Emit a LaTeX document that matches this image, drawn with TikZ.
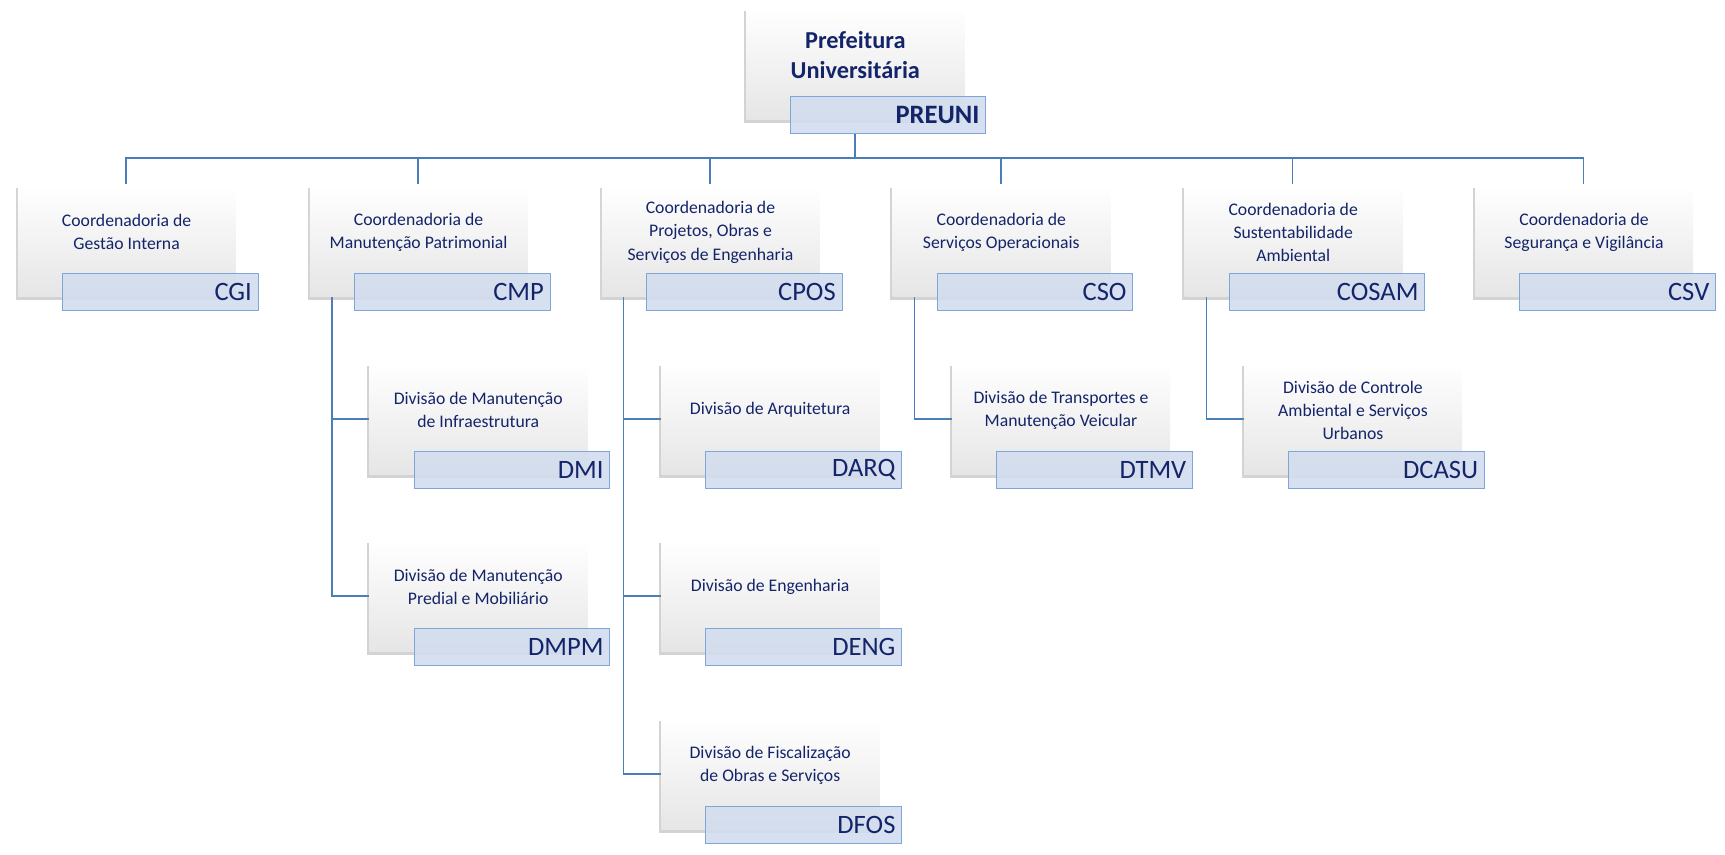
\documentclass[tikz,border=0pt]{standalone}
\usepackage{fontspec}
\setmainfont{Carlito}
\usetikzlibrary{shadows,calc}
\definecolor{navy}{HTML}{14246A}
\definecolor{lnc}{HTML}{4A7EBB}
\definecolor{codef}{HTML}{D2DDEE}
\definecolor{coded}{HTML}{7FA6D8}
\tikzset{
  box/.style={draw=none,top color=white,bottom color=black!10,minimum width=197pt,minimum height=101pt,anchor=north west,inner sep=0pt,drop shadow={shadow xshift=-2pt,shadow yshift=-3pt,opacity=0.35}},
  code/.style={draw=coded,fill=codef,fill opacity=0.9,minimum width=177pt,minimum height=33pt,anchor=north west,inner sep=0pt},
  codetxt/.style={anchor=east,text=navy,font=\fontsize{24}{26}\selectfont,inner sep=0pt},
  txt/.style={align=center,text=navy,font=\fontsize{16}{21}\selectfont,inner sep=0pt},
  ln/.style={draw=lnc,line width=1.5pt}
}
\newcommand{\orgbox}[5]{% name, left, top, text, code
  \node[box] (#1) at (#2,#3) {};
  \node[txt] (#1t) at (#2+98.5,#3+43) {#4};
  \node[code] (#1c) at (#2+40,#3+80) {};
  \node[codetxt] (#1k) at (#2+212,#3+97) {#5};
}
\begin{document}
\begin{tikzpicture}[x=1pt,y=-1pt]
\useasboundingbox (0,0) rectangle (1560,773);
% lines
\coordinate (bus) at (773,143);
\draw[ln] (773,120) -- (bus);
\draw[ln] (114,167) |- (1432,143) -- (1432,167);
\foreach \x in {378,642,905,1169} \draw[ln] (\x,143) -- (\x,167);
\foreach \x/\ys in {300/{379,539},564/{379,539,700},827/{379},1091/{379}}{
  \foreach \y in \ys {\draw[ln] (\x,268) |- (\x+34,\y);}
}
% top
\node[box,minimum height=101pt] (top) at (675,7) {};
\node[txt,font=\bfseries\fontsize{22}{27}\selectfont] (topt) at (773.5,50) {Prefeitura\\Universitária};
\node[code] (topc) at (714,87) {};
\node[codetxt,font=\bfseries\fontsize{24}{26}\selectfont] (topk) at (886,104) {PREUNI};
% coordinations
\orgbox{cgi}{16}{167}{Coordenadoria de\\Gestão Interna}{CGI}
\orgbox{cmp}{280}{167}{Coordenadoria de\\Manutenção Patrimonial}{CMP}
\orgbox{cpos}{544}{167}{Coordenadoria de\\Projetos, Obras e\\Serviços de Engenharia}{CPOS}
\orgbox{cso}{807}{167}{Coordenadoria de\\Serviços Operacionais}{CSO}
\orgbox{cosam}{1071}{167}{Coordenadoria de\\Sustentabilidade\\Ambiental}{COSAM}
\orgbox{csv}{1334}{167}{Coordenadoria de\\Segurança e Vigilância}{CSV}
% divisions
\orgbox{dmi}{334}{328}{Divisão de Manutenção\\de Infraestrutura}{DMI}
\orgbox{dmpm}{334}{488}{Divisão de Manutenção\\Predial e Mobiliário}{DMPM}
\orgbox{darq}{598}{328}{Divisão de Arquitetura}{DARQ}
\orgbox{deng}{598}{488}{Divisão de Engenharia}{DENG}
\orgbox{dfos}{598}{649}{Divisão de Fiscalização\\de Obras e Serviços}{DFOS}
\orgbox{dtmv}{861}{328}{Divisão de Transportes e\\Manutenção Veicular}{DTMV}
\orgbox{dcasu}{1125}{328}{Divisão de Controle\\Ambiental e Serviços\\Urbanos}{DCASU}
\end{tikzpicture}
\end{document}
